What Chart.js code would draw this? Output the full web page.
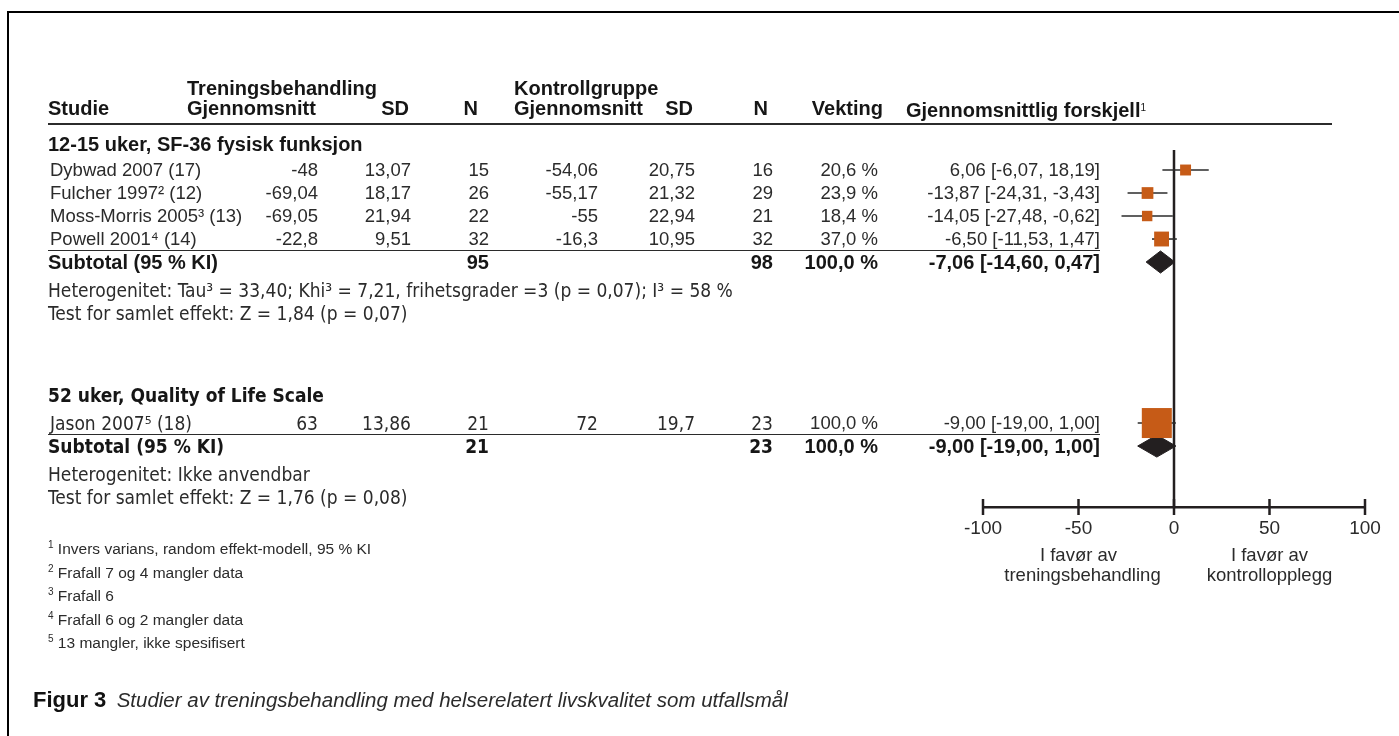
<!DOCTYPE html>
<html>
<head>
<meta charset="utf-8">
<script src="https://cdn.jsdelivr.net/npm/chart.js@4.4.0/dist/chart.umd.min.js"></script>
<style>
body { margin: 0; background: #fff; }
#wrap { position: relative; width: 1399px; height: 736px; overflow: hidden;
        font-family: "Liberation Sans", Arial, sans-serif; color: #2b2b2b; }
#plot { position: absolute; left: 0; top: 0; }
.ramme { position: absolute; left: 7px; top: 11px; right: 0; bottom: 0;
         border-top: 2px solid #000; border-left: 2px solid #000; }
.t { position: absolute; white-space: nowrap; line-height: 20px; font-size: 18.5px; }
.b { font-weight: bold; color: #161616; font-size: 20px; }
.n { font-family: "Liberation Sans Narrow", "DejaVu Sans Condensed", "Liberation Sans", sans-serif; font-size: 19px; }
.fn { font-size: 15.5px; }
.s { font-size: 10px; vertical-align: 6px; font-weight: normal; }
.strek { position: absolute; background: #2b2b2b; }
</style>
</head>
<body>
<div id="wrap">
  <div class="ramme"></div>
  <canvas id="plot" width="1399" height="736"></canvas>
</div>
<script>
// data, lest av figuren
var studier = ['Dybwad 2007 (17)', 'Fulcher 1997² (12)', 'Moss-Morris 2005³ (13)', 'Powell 2001⁴ (14)', 'Jason 2007⁵ (18)'];
var gruppe = [0, 0, 0, 0, 1];
var trenSnitt = [-48, -69.04, -69.05, -22.8, 63];
var trenSD = [13.07, 18.17, 21.94, 9.51, 13.86];
var trenN = [15, 26, 22, 32, 21];
var kontSnitt = [-54.06, -55.17, -55, -16.3, 72];
var kontSD = [20.75, 21.32, 22.94, 10.95, 19.7];
var kontN = [16, 29, 21, 32, 23];
var vekt = [20.6, 23.9, 18.4, 37.0, 100.0];
var diff = [6.06, -13.87, -14.05, -6.50, -9.00];
var nedre = [-6.07, -24.31, -27.48, -11.53, -19.00];
var ovre = [18.19, -3.43, -0.62, 1.47, 1.00];

var gruppeTittel = ['12-15 uker, SF-36 fysisk funksjon', '52 uker, Quality of Life Scale'];
var subTrenN = [95, 21];
var subKontN = [98, 23];
var subVekt = [100.0, 100.0];
var subDiff = [-7.06, -9.00];
var subNedre = [-14.60, -19.00];
var subOvre = [0.47, 1.00];
var hetTekst = ['Heterogenitet: Tau³ = 33,40; Khi³ = 7,21, frihetsgrader =3 (p = 0,07); I³ = 58 %', 'Heterogenitet: Ikke anvendbar'];
var testTekst = ['Test for samlet effekt: Z = 1,84 (p = 0,07)', 'Test for samlet effekt: Z = 1,76 (p = 0,08)'];

var xTicks = [-100, -50, 0, 50, 100];
var fotnoter = ['Invers varians, random effekt-modell, 95 % KI', 'Frafall 7 og 4 mangler data', 'Frafall 6', 'Frafall 6 og 2 mangler data', '13 mangler, ikke spesifisert'];

// oppsett (rader i y-enheter)
var studieRad = [1, 2, 3, 4, 12];
var subRad = [5, 13];
var tittelRad = [-0.13, 10.78];
var hetRad = [6.22, 14.2];
var testRad = [7.22, 15.2];
var ROW_MIN = 0.13, ROW_MAX = 15.65;

var oransje = '#c65b17';
var mork = '#231f20';

function fmt(v) { return String(v).replace('.', ','); }
function fmt2(v) { return v.toFixed(2).replace('.', ','); }
function ki(d, lo, hi) { return fmt2(d) + ' [' + fmt2(lo) + ', ' + fmt2(hi) + ']'; }

var datasets = [];

// firkanter, størrelse etter vekting
datasets.push({
    data: diff.map(function (d, i) { return { x: d, y: studieRad[i] }; }),
    showLine: false,
    pointStyle: 'rect',
    pointRadius: vekt.map(function (w) { return (6 + 0.24 * w) / Math.SQRT2; }),
    pointBackgroundColor: oransje,
    pointBorderWidth: 0,
    order: 0
});

// konfidensintervall
diff.forEach(function (d, i) {
    datasets.push({
        data: [{ x: nedre[i], y: studieRad[i] }, { x: ovre[i], y: studieRad[i] }],
        borderColor: '#2b2b2b',
        borderWidth: 1.6,
        pointRadius: 0,
        order: 2
    });
});

// diamanter for subtotal
subDiff.forEach(function (d, i) {
    var r = subRad[i];
    datasets.push({
        data: [{ x: subNedre[i], y: r }, { x: d, y: r - 0.48 }, { x: subOvre[i], y: r }, { x: d, y: r + 0.48 }, { x: subNedre[i], y: r }],
        borderColor: mork,
        borderWidth: 1,
        backgroundColor: mork,
        fill: 'shape',
        pointRadius: 0,
        tension: 0,
        order: 1
    });
});

// nullinje
datasets.push({
    data: [{ x: 0, y: ROW_MIN }, { x: 0, y: ROW_MAX }],
    borderColor: mork,
    borderWidth: 2.5,
    pointRadius: 0,
    order: 3
});

// tick-streker på aksen
datasets.push({
    data: xTicks.map(function (v) { return { x: v, y: ROW_MAX }; }),
    showLine: false,
    pointStyle: 'line',
    rotation: 90,
    pointRadius: 8,
    pointBorderColor: mork,
    pointBorderWidth: 2.5,
    clip: false,
    order: 3
});

var chart = new Chart(document.getElementById('plot'), {
    type: 'line',
    data: { datasets: datasets },
    options: {
        responsive: false,
        animation: false,
        devicePixelRatio: 1,
        layout: { padding: { left: 983, right: 34, top: 150, bottom: 189 } },
        plugins: { legend: { display: false }, tooltip: { enabled: false } },
        scales: {
            x: {
                type: 'linear',
                min: -100,
                max: 100,
                afterFit: function (s) { s.height = 40; },
                afterBuildTicks: function (s) { s.ticks = xTicks.map(function (v) { return { value: v }; }); },
                grid: { display: false, drawTicks: false, tickLength: 0 },
                border: { display: true, color: mork, width: 2.5 },
                ticks: {
                    padding: 10,
                    color: '#2b2b2b',
                    font: { family: '"Liberation Sans", Arial, sans-serif', size: 19 },
                    callback: function (v) { return String(v); }
                }
            },
            y: {
                type: 'linear',
                display: false,
                reverse: true,
                min: ROW_MIN,
                max: ROW_MAX
            }
        }
    }
});

// tekst rundt figuren
var wrap = document.getElementById('wrap');
function put(txt, x, y, align, cls) {
    var el = document.createElement('div');
    el.className = 't ' + (cls || '');
    el.innerHTML = txt;
    el.style.top = (y - 10) + 'px';
    if (align === 'right') el.style.right = (1399 - x) + 'px';
    else if (align === 'center') { el.style.left = x + 'px'; el.style.transform = 'translateX(-50%)'; }
    else el.style.left = x + 'px';
    wrap.appendChild(el);
}
function strek(x1, x2, y, h) {
    var el = document.createElement('div');
    el.className = 'strek';
    el.style.left = x1 + 'px';
    el.style.width = (x2 - x1) + 'px';
    el.style.top = (y - h / 2) + 'px';
    el.style.height = h + 'px';
    wrap.appendChild(el);
}
var yPx = function (r) { return chart.scales.y.getPixelForValue(r); };
var xPx = function (v) { return chart.scales.x.getPixelForValue(v); };

// kolonner (høyrekant)
var kol = { tSnitt: 318, tSD: 411, tN: 489, kSnitt: 598, kSD: 695, kN: 773, vekt: 878, diff: 1100 };

put('Treningsbehandling', 187, 88, 'left', 'b');
put('Kontrollgruppe', 514, 88, 'left', 'b');
put('Studie', 48, 108, 'left', 'b');
put('Gjennomsnitt', 187, 108, 'left', 'b');
put('SD', 409, 108, 'right', 'b');
put('N', 478, 108, 'right', 'b');
put('Gjennomsnitt', 514, 108, 'left', 'b');
put('SD', 693, 108, 'right', 'b');
put('N', 768, 108, 'right', 'b');
put('Vekting', 883, 108, 'right', 'b');
put('Gjennomsnittlig forskjell<span class="s">1</span>', 906, 108, 'left', 'b');
strek(48, 1332, 124, 2);

studier.forEach(function (navn, i) {
    var y = yPx(studieRad[i]);
    var c = gruppe[i] === 1 ? 'n' : '';
    put(navn, 50, y, 'left', c);
    put(fmt(trenSnitt[i]), kol.tSnitt, y, 'right', c);
    put(fmt(trenSD[i]), kol.tSD, y, 'right', c);
    put(fmt(trenN[i]), kol.tN, y, 'right', c);
    put(fmt(kontSnitt[i]), kol.kSnitt, y, 'right', c);
    put(fmt(kontSD[i]), kol.kSD, y, 'right', c);
    put(fmt(kontN[i]), kol.kN, y, 'right', c);
    put(vekt[i].toFixed(1).replace('.', ',') + ' %', kol.vekt, y, 'right');
    put(ki(diff[i], nedre[i], ovre[i]), kol.diff, y, 'right');
});

gruppeTittel.forEach(function (tittel, g) {
    var c = g === 1 ? 'b n' : 'b';
    put(tittel, 48, yPx(tittelRad[g]), 'left', c);
    var ys = yPx(subRad[g]);
    strek(48, 1100, yPx(subRad[g] - 0.5), 1.5);
    put('Subtotal (95 % KI)', 48, ys, 'left', c);
    put(fmt(subTrenN[g]), kol.tN, ys, 'right', c);
    put(fmt(subKontN[g]), kol.kN, ys, 'right', c);
    put(subVekt[g].toFixed(1).replace('.', ',') + ' %', kol.vekt, ys, 'right', 'b');
    put(ki(subDiff[g], subNedre[g], subOvre[g]), kol.diff, ys, 'right', 'b');
    put(hetTekst[g], 48, yPx(hetRad[g]), 'left', 'n');
    put(testTekst[g], 48, yPx(testRad[g]), 'left', 'n');
});

// tekst under aksen
put('I favør av', xPx(-50), 555, 'center');
put('treningsbehandling', xPx(-50) + 4, 575, 'center');
put('I favør av', xPx(50), 555, 'center');
put('kontrollopplegg', xPx(50), 575, 'center');

fotnoter.forEach(function (tekst, i) {
    put('<span class="s">' + (i + 1) + '</span> ' + tekst, 48, 545 + i * 23.5, 'left', 'fn');
});

put('<span style="font-weight:bold;font-size:22px;color:#111">Figur 3</span>&nbsp; <i style="font-size:20.5px">Studier av treningsbehandling med helserelatert livskvalitet som utfallsmål</i>', 33, 700, 'left');
</script>
</body>
</html>
